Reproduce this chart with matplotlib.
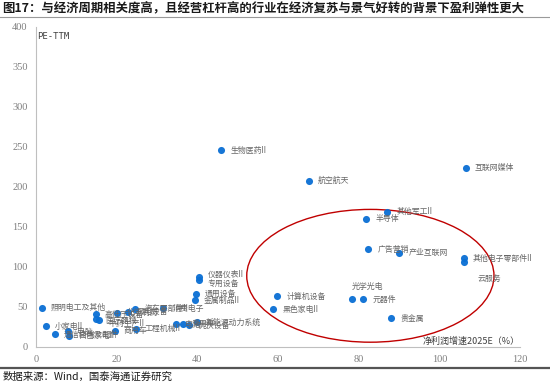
import matplotlib
matplotlib.use("Agg")
import matplotlib.pyplot as plt
from matplotlib.patches import Ellipse
from matplotlib.lines import Line2D

plt.rcParams['font.family'] = ['Noto Sans CJK SC', 'DejaVu Sans']

# 行业数据：净利润增速2025E (%) 与 PE-TTM
industries = [
    '生物医药II', '航空航天', '互联网媒体', '其他军工II', '半导体', '广告营销',
    '产业互联网', '其他电子零部件II', '云服务', '光学光电', '元器件', '贵金属',
    '计算机设备', '黑色家电II', '仪器仪表II', '专用设备', '通用设备', '金属制品II',
    '照明电工及其他', '小家电II', '通信终端及配件', '电脑', '白色家电II',
    '高低压设备', '医疗器械', '中药生产II', '商用车', '化学制药', '风电设备',
    '汽车零部件II', '消费电子', '工程机械II', '电池', '乘用车', '光伏设备',
    '新能源动力系统',
]
growth = [
    45.9, 67.7, 106.5, 87.1, 81.9, 82.4,
    90.1, 106.0, 106.0, 78.4, 81.1, 88.1,
    59.8, 58.8, 40.3, 40.4, 39.7, 39.3,
    1.4, 2.4, 4.7, 8.0, 8.3,
    14.8, 14.9, 15.7, 19.5, 20.2, 22.7,
    24.6, 31.6, 24.8, 34.7, 36.4, 38.0,
    39.8,
]
pe_ttm = [
    246, 208, 224, 169, 160.5, 122,
    118, 111, 106, 59.5, 59.5, 36,
    63.5, 47, 87.5, 84.3, 66.7, 58.4,
    49.2, 26, 16, 19.6, 13.8,
    41, 35.5, 34.3, 19.5, 42.5, 44,
    47.5, 48.5, 23, 28.4, 28.4, 27.5,
    31,
]
# 标签偏移（points），默认在点右侧
label_offset = {
    '云服务': (10, -12),
    '光学光电': (0, 9),
    '仪器仪表II': (6.5, 2),
    '专用设备': (6.5, -3),
    '医疗器械': (6.5, -1),
    '中药生产II': (6.5, -3),
}

ellipse_center = (82.9, 89)
ellipse_size = (61.3, 166)

fig = plt.figure(figsize=(5.5, 3.83), dpi=100)
ax = fig.add_axes([36 / 550, 1 - 347 / 383, 484 / 550, 320 / 383])

ax.scatter(growth, pe_ttm, s=26, color='#0A6FD4', alpha=0.95, zorder=3, linewidths=0)
for name, x, y in zip(industries, growth, pe_ttm):
    dx, dy = label_offset.get(name, (6.5, 0))
    ax.annotate(name, (x, y), xytext=(dx, dy), textcoords='offset points',
                fontsize=5.7, color='#666666', va='center', ha='left', zorder=4)

ax.add_patch(Ellipse(ellipse_center, ellipse_size[0], ellipse_size[1],
                     fill=False, edgecolor='#C00000', lw=1.0, clip_on=False, zorder=2))

ax.set_xlim(0, 120)
ax.set_ylim(0, 400)
ax.set_xticks(range(0, 121, 20))
ax.set_yticks(range(0, 401, 50))
ax.tick_params(length=0, pad=6, labelsize=7.5, labelcolor='#7f7f7f')
for lab in ax.get_xticklabels() + ax.get_yticklabels():
    lab.set_family('Liberation Serif')
for side in ['top', 'right']:
    ax.spines[side].set_visible(False)
for side in ['left', 'bottom']:
    ax.spines[side].set_color('#bfbfbf')
    ax.spines[side].set_linewidth(0.8)

ax.text(0.003, 0.985, 'PE-TTM', transform=ax.transAxes, fontsize=6.5,
        color='#404040', va='top', ha='left', family='DejaVu Sans Mono')
ax.text(1.0, 0.005, '净利润增速2025E（%）', transform=ax.transAxes, fontsize=6.5,
        color='#404040', va='bottom', ha='right')

fig.text(0.004, 1 - 9 / 383, '图17：与经济周期相关度高，且经营杠杆高的行业在经济复苏与景气好转的背景下盈利弹性更大',
         fontsize=8.9, fontweight='bold', color='#1a1a1a', va='center', ha='left')
fig.add_artist(Line2D([0, 1], [1 - 17 / 383, 1 - 17 / 383], color='#9a9a9a', lw=0.8))
fig.add_artist(Line2D([0, 1], [1 - 368 / 383, 1 - 368 / 383], color='#555555', lw=1.6))
fig.text(0.004, 1 - 377 / 383, '数据来源：Wind，国泰海通证券研究',
         fontsize=7.5, color='#1a1a1a', va='center', ha='left')

fig.savefig('out.png', dpi=100)
